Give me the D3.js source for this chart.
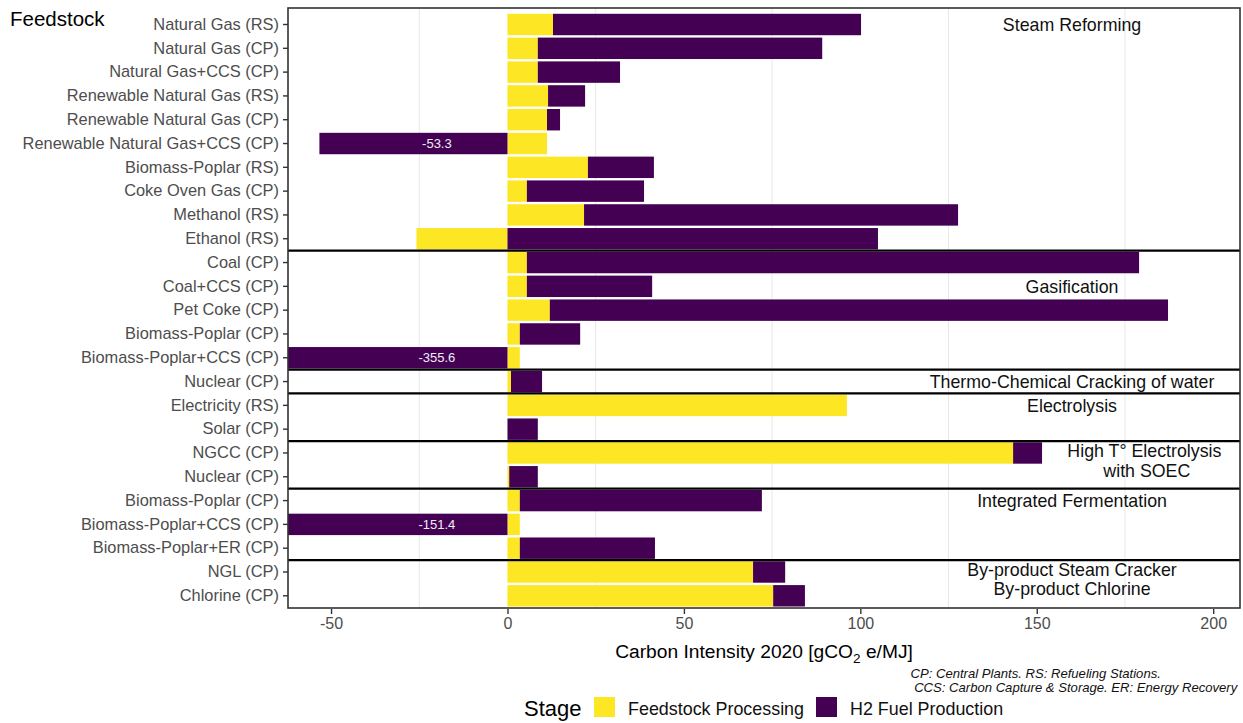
<!DOCTYPE html>
<html>
<head>
<meta charset="utf-8">
<script src="https://cdn.jsdelivr.net/npm/d3@7"></script>
<style>
  html, body { margin: 0; padding: 0; background: #ffffff; }
  svg { display: block; font-family: "Liberation Sans", Arial, sans-serif; }
</style>
</head>
<body>
<svg id="chart" width="1243" height="723"></svg>
<script>
// ---------------- DATA ----------------
const categories = [
  "Natural Gas (RS)", "Natural Gas (CP)", "Natural Gas+CCS (CP)",
  "Renewable Natural Gas (RS)", "Renewable Natural Gas (CP)", "Renewable Natural Gas+CCS (CP)",
  "Biomass-Poplar (RS)", "Coke Oven Gas (CP)", "Methanol (RS)", "Ethanol (RS)",
  "Coal (CP)", "Coal+CCS (CP)", "Pet Coke (CP)", "Biomass-Poplar (CP)", "Biomass-Poplar+CCS (CP)",
  "Nuclear (CP)",
  "Electricity (RS)", "Solar (CP)",
  "NGCC (CP)", "Nuclear (CP)",
  "Biomass-Poplar (CP)", "Biomass-Poplar+CCS (CP)", "Biomass-Poplar+ER (CP)",
  "NGL (CP)", "Chlorine (CP)"
];
const feedstockProcessing = [
  12.9, 8.6, 8.6, 11.5, 11.2, 11.2, 22.8, 5.5, 21.7, -25.8,
  5.5, 5.5, 12.0, 3.5, 3.5,
  1.0,
  96.2, 0,
  143.3, 0.5,
  3.5, 3.5, 3.5,
  69.6, 75.3
];
const h2FuelProduction = [
  87.3, 80.6, 23.3, 10.5, 3.7, -53.3, 18.7, 33.2, 106.0, 105.0,
  173.5, 35.5, 175.2, 17.1, -355.6,
  8.8,
  0, 8.6,
  8.2, 8.1,
  68.6, -151.4, 38.3,
  9.1, 9.0
];
const stages = ["Feedstock Processing", "H2 Fuel Production"];
const stageColors = ["#FDE725", "#440154"];
// processes: label lines, first row, last row
const processNames = [
  ["Steam Reforming"], ["Gasification"], ["Thermo-Chemical Cracking of water"],
  ["Electrolysis"], ["High T° Electrolysis", " with SOEC"], ["Integrated Fermentation"],
  ["By-product Steam Cracker", "By-product Chlorine"]
];
const processFirstRow = [0, 10, 15, 16, 18, 20, 23];
const processLastRow  = [9, 14, 15, 17, 19, 22, 24];
const xTickValues = [-50, 0, 50, 100, 150, 200];
const xMinorGrid = [-25, 25, 75, 125, 175];
const xDomain = [-62.2, 207.6];
const captionLines = ["CP: Central Plants. RS: Refueling Stations.",
                      " CCS: Carbon Capture & Storage. ER: Energy Recovery"];

// ---------------- LAYOUT ----------------
const svg = d3.select("#chart");
const P = { left: 288, right: 1240, top: 8, bottom: 608 };
const FONT = '"Liberation Sans", Arial, sans-serif';

const x = d3.scaleLinear().domain(xDomain).range([P.left, P.right]);
const rows = d3.range(categories.length);
const y = d3.scaleBand().domain(rows).range([12.6, 607.7]).paddingInner(0.1).paddingOuter(0.05);
const yc = i => y(i) + y.bandwidth() / 2;
const step = y.step();

// clip
svg.append("defs").append("clipPath").attr("id", "panelClip")
  .append("rect").attr("x", P.left).attr("y", P.top)
  .attr("width", P.right - P.left).attr("height", P.bottom - P.top);

// panel background
svg.append("rect").attr("x", P.left).attr("y", P.top)
  .attr("width", P.right - P.left).attr("height", P.bottom - P.top)
  .attr("fill", "#ffffff");

// minor gridlines
svg.append("g").selectAll("line").data(xMinorGrid).join("line")
  .attr("x1", d => x(d)).attr("x2", d => x(d))
  .attr("y1", P.top).attr("y2", P.bottom)
  .attr("stroke", "#e8e8e8").attr("stroke-width", 1);

// stacked bars
const table = rows.map(i => ({ i, [stages[0]]: feedstockProcessing[i], [stages[1]]: h2FuelProduction[i] }));
const stacked = d3.stack().keys(stages).offset(d3.stackOffsetDiverging)(table);

const barsG = svg.append("g").attr("clip-path", "url(#panelClip)");
stacked.forEach((layer, k) => {
  barsG.append("g").selectAll("rect").data(layer).join("rect")
    .attr("x", d => x(Math.min(d[0], d[1])))
    .attr("width", d => Math.abs(x(d[1]) - x(d[0])))
    .attr("y", d => y(d.data.i))
    .attr("height", y.bandwidth())
    .attr("fill", stageColors[k]);
});

// value labels for strongly negative H2 production
const negRows = rows.filter(i => h2FuelProduction[i] < -50);
svg.append("g").selectAll("text").data(negRows).join("text")
  .attr("x", x(-20)).attr("y", i => yc(i))
  .attr("dy", "0.35em")
  .attr("text-anchor", "middle")
  .attr("font-family", FONT).attr("font-size", 13)
  .attr("fill", "#f0eef5")
  .text(i => h2FuelProduction[i].toFixed(1));

// process separators
const sepRows = processLastRow.slice(0, -1);
svg.append("g").selectAll("line").data(sepRows).join("line")
  .attr("x1", P.left).attr("x2", P.right)
  .attr("y1", i => yc(i) + step / 2).attr("y2", i => yc(i) + step / 2)
  .attr("stroke", "#000000").attr("stroke-width", 2.2);

// process labels
const procG = svg.append("g").attr("font-family", FONT).attr("font-size", 17.8).attr("fill", "#111111");
processNames.forEach((lines, g) => {
  const midY = (yc(processFirstRow[g]) + yc(processLastRow[g])) / 2;
  let cx = x(160), ys;
  if (g === 0) ys = [yc(0)];
  else if (g === 4) { cx = x(180.5); ys = [midY - 14, midY + 6]; }
  else if (g === 6) ys = [midY - 14, midY + 5];
  else if (g === 1) ys = [yc(11)];
  else if (g === 5) ys = [yc(20)];
  else if (g === 3) ys = [yc(16)];
  else ys = [midY];
  lines.forEach((t, j) => {
    procG.append("text").attr("x", cx).attr("y", ys[j]).attr("dy", "0.36em")
      .attr("text-anchor", "middle").attr("xml:space", "preserve").text(t);
  });
});

// panel border
svg.append("rect").attr("x", P.left).attr("y", P.top)
  .attr("width", P.right - P.left).attr("height", P.bottom - P.top)
  .attr("fill", "none").attr("stroke", "#333333").attr("stroke-width", 1.6);

// x axis
const xAxis = svg.append("g").attr("transform", `translate(0,${P.bottom + 1})`)
  .call(d3.axisBottom(x).tickValues(xTickValues).tickSize(5).tickPadding(4).tickFormat(d => String(d)));
xAxis.select(".domain").remove();
xAxis.selectAll(".tick line").attr("stroke", "#333333").attr("stroke-width", 1.4);
xAxis.selectAll(".tick text").attr("fill", "#4d4d4d").attr("font-size", 16).attr("font-family", FONT);

// y axis
const yAxis = svg.append("g").attr("transform", `translate(${P.left},0)`)
  .call(d3.axisLeft(y).tickSize(5).tickPadding(4).tickFormat(i => categories[i]));
yAxis.select(".domain").remove();
yAxis.selectAll(".tick line").attr("stroke", "#333333").attr("stroke-width", 1.4);
yAxis.selectAll(".tick text").attr("fill", "#4d4d4d").attr("font-size", 16.4).attr("font-family", FONT);

// y axis title
svg.append("text").attr("x", 10).attr("y", 26)
  .attr("font-family", FONT).attr("font-size", 20.5).attr("fill", "#000")
  .text("Feedstock");

// x axis title with subscript
const xt = svg.append("text").attr("x", 764).attr("y", 658)
  .attr("text-anchor", "middle").attr("font-family", FONT).attr("font-size", 19.2).attr("fill", "#000");
xt.append("tspan").text("Carbon Intensity 2020 [gCO");
xt.append("tspan").attr("dy", 5).attr("font-size", 13.5).text("2");
xt.append("tspan").attr("dy", -5).text(" e/MJ]");

// caption
const cap = svg.append("g").attr("font-family", FONT).attr("font-size", 13.1)
  .attr("font-style", "italic").attr("fill", "#111111");
cap.append("text").attr("x", 910.5).attr("y", 678).text(captionLines[0]);
cap.append("text").attr("x", 910.5).attr("y", 692).attr("xml:space", "preserve").text(captionLines[1]);

// legend
const leg = svg.append("g").attr("font-family", FONT);
leg.append("text").attr("x", 524).attr("y", 716).attr("font-size", 22).attr("fill", "#000").text("Stage");
const keyX = [594, 816], textX = [628, 850];
stages.forEach((s, k) => {
  leg.append("rect").attr("x", keyX[k]).attr("y", 697).attr("width", 21).attr("height", 20)
    .attr("fill", stageColors[k]);
  leg.append("text").attr("x", textX[k]).attr("y", 715).attr("font-size", 17.9).attr("fill", "#111")
    .text(s);
});
</script>
</body>
</html>
